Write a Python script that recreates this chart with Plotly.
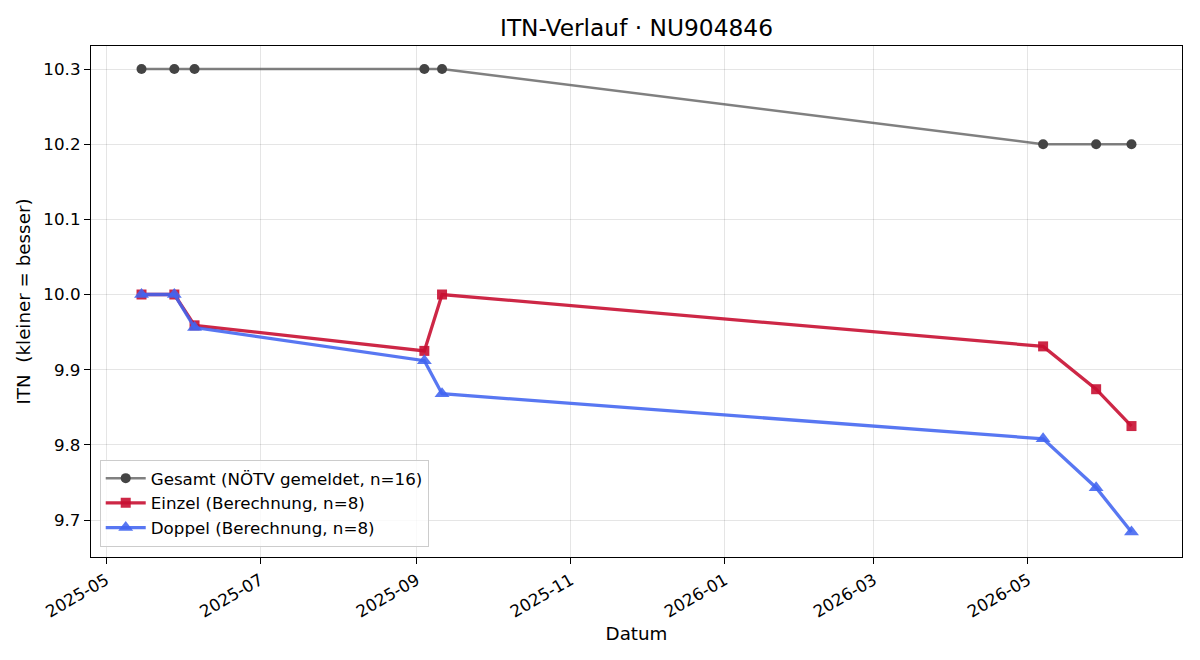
import plotly.graph_objects as go

dates = ["2025-05-15", "2025-05-28", "2025-06-05", "2025-09-04", "2025-09-11",
         "2026-05-07", "2026-05-28", "2026-06-11"]
gesamt = [10.3, 10.3, 10.3, 10.3, 10.3, 10.2, 10.2, 10.2]
einzel = [10.0, 10.0, 9.959, 9.925, 10.0, 9.931, 9.874, 9.825]
doppel = [10.0, 10.0, 9.956, 9.912, 9.868, 9.808, 9.743, 9.684]

x_ticks = ["2025-05-01", "2025-07-01", "2025-09-01", "2025-11-01",
           "2026-01-01", "2026-03-01", "2026-05-01"]
x_ticktext = ["2025-05", "2025-07", "2025-09", "2025-11", "2026-01", "2026-03", "2026-05"]
y_ticks = [9.7, 9.8, 9.9, 10.0, 10.1, 10.2, 10.3]

FONT = "DejaVu Sans"

fig = go.Figure()
fig.add_trace(go.Scatter(
    x=dates, y=gesamt, mode="lines+markers",
    name="Gesamt (NÖTV gemeldet, n=16)",
    line=dict(color="rgba(85,85,85,0.75)", width=2.5),
    marker=dict(symbol="circle", size=10, color="#444444"),
))
fig.add_trace(go.Scatter(
    x=dates, y=einzel, mode="lines+markers",
    name="Einzel (Berechnung, n=8)",
    line=dict(color="rgba(200,16,50,0.9)", width=3.3),
    marker=dict(symbol="square", size=10, color="rgba(200,16,50,0.9)"),
))
fig.add_trace(go.Scatter(
    x=dates, y=doppel, mode="lines+markers",
    name="Doppel (Berechnung, n=8)",
    line=dict(color="rgba(65,100,240,0.88)", width=3.3),
    marker=dict(symbol="triangle-up", size=13, color="rgba(65,100,240,0.88)"),
))

axis_common = dict(
    showgrid=True, gridcolor="rgba(0,0,0,0.1)", gridwidth=1,
    showline=True, linecolor="black", linewidth=1.3, mirror=True,
    ticks="outside", ticklen=6, tickcolor="black", tickwidth=1.3,
    zeroline=False, tickfont=dict(family=FONT, size=16.7, color="black"),
)

fig.update_layout(
    width=1200, height=660,
    margin=dict(l=91, r=18, t=46, b=103),
    paper_bgcolor="white", plot_bgcolor="white",
    font=dict(family=FONT, size=16.7, color="black"),
    title=dict(text="ITN-Verlauf · NU904846", x=0.5, xref="paper",
               y=1 - 28 / 660, yref="container", yanchor="middle",
               font=dict(family=FONT, size=23.3, color="black")),
    xaxis=dict(axis_common, type="date", range=["2025-04-25", "2026-07-01"],
               tickvals=x_ticks, ticktext=x_ticktext, tickangle=-30,
               title=dict(text="Datum", font=dict(family=FONT, size=18.3), standoff=6)),
    yaxis=dict(axis_common, range=[9.6508, 10.3306], tickvals=y_ticks,
               tickformat=".1f",
               title=dict(text="ITN\u00a0 (kleiner = besser)", font=dict(family=FONT, size=18.3),
                          standoff=7)),
    legend=dict(x=0.008, y=0.02, xanchor="left", yanchor="bottom",
                bgcolor="rgba(255,255,255,0.8)", bordercolor="#cccccc", borderwidth=1,
                font=dict(family=FONT, size=16.7, color="black"),
                itemwidth=40, tracegroupgap=2),
    showlegend=True,
)

fig.write_html("out.html")
